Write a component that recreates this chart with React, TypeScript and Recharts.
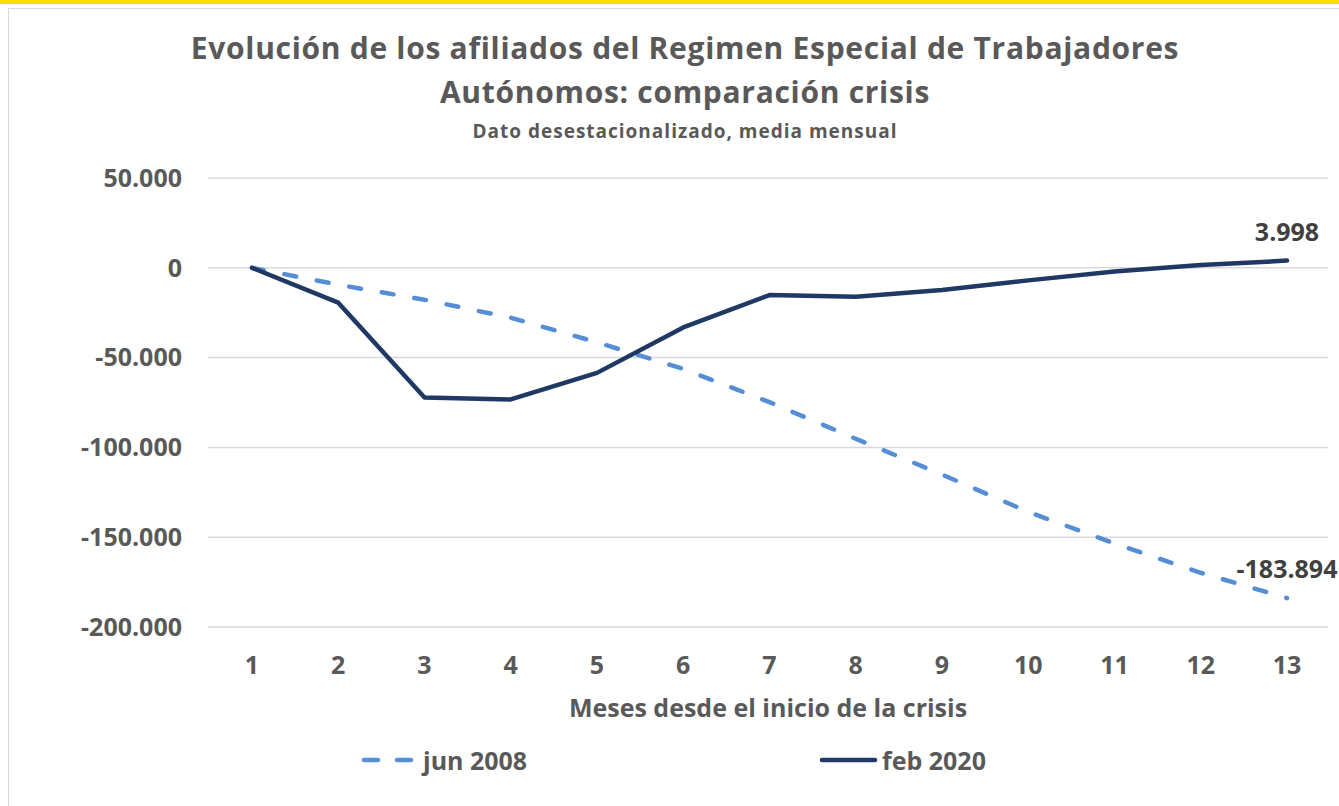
import React from "react";
import { LineChart, Line, XAxis, YAxis, CartesianGrid, LabelList } from "recharts";

const months = ["1", "2", "3", "4", "5", "6", "7", "8", "9", "10", "11", "12", "13"];
const jun2008 = [0, -9400, -17800, -27800, -41500, -56300, -74800, -95200, -115100, -135900, -153500, -169800, -183894];
const feb2020 = [0, -19400, -72200, -73300, -58500, -33200, -15200, -16100, -12400, -7000, -2000, 1500, 3998];
const yTicks = [-200000, -150000, -100000, -50000, 0, 50000];

const titleLine1 = "Evolución de los afiliados del Regimen Especial de Trabajadores";
const titleLine2 = "Autónomos: comparación crisis";
const subtitle = "Dato desestacionalizado, media mensual";
const xAxisTitle = "Meses desde el inicio de la crisis";
const seriesNames = ["jun 2008", "feb 2020"];

const data = months.map((m, i) => ({ m, a: jun2008[i], b: feb2020[i] }));

const FONT = "'Open Sans', Lato, sans-serif";
const GRAY = "#595959";
const LIGHT = "#558ED5";
const DARK = "#1F3864";

const fmt = (v: number) => {
  if (v === 0) return "0";
  const s = Math.abs(Math.round(v)).toString().replace(/\B(?=(\d{3})+(?!\d))/g, ".");
  return (v < 0 ? "-" : "") + s;
};

const lastLabel = (props: any) => {
  const { x, y, index, value } = props;
  if (index !== months.length - 1) return null;
  return (
    <text x={x} y={y - 20} textAnchor="middle" fontFamily={FONT} fontWeight={700} fontSize={25} fill="#404040">
      {fmt(value)}
    </text>
  );
};

export default function App() {
  return (
    <div style={{ position: "absolute", left: 0, top: 0, width: 1339, height: 806, overflow: "hidden", background: "#fff" }}>
      <div style={{ position: "absolute", left: 0, top: 0, width: 1339, height: 4, background: "#FFDD00" }} />
      <div style={{ position: "absolute", left: 8, top: 8, width: 1400, height: 900, border: "1px solid #d9d9d9" }} />
      <div style={{ position: "absolute", left: 0, top: 0 }}>
        <LineChart width={1339} height={806} data={data} margin={{ top: 178, right: 11, bottom: 119, left: 88 }}>
          <CartesianGrid vertical={false} stroke="#d9d9d9" strokeWidth={1.5} />
          <XAxis
            dataKey="m"
            axisLine={false}
            tickLine={false}
            height={60}
            tickMargin={23}
            interval={0}
            padding={{ left: 44, right: 41 }}
            tick={{ fill: GRAY, fontSize: 25, fontWeight: 700, fontFamily: FONT }}
          />
          <YAxis
            width={120}
            domain={[-200000, 50000]}
            ticks={yTicks}
            axisLine={false}
            tickLine={false}
            tickMargin={20}
            tickFormatter={fmt}
            tick={{ fill: GRAY, fontSize: 25, fontWeight: 700, fontFamily: FONT }}
          />
          <Line
            dataKey="a"
            name={seriesNames[0]}
            stroke={LIGHT}
            strokeWidth={4.5}
            strokeDasharray="12 21"
            strokeLinecap="round"
            dot={false}
            isAnimationActive={false}
          >
            <LabelList dataKey="a" content={lastLabel} />
          </Line>
          <Line
            dataKey="b"
            name={seriesNames[1]}
            stroke={DARK}
            strokeWidth={4.5}
            strokeLinecap="round"
            strokeLinejoin="round"
            dot={false}
            isAnimationActive={false}
          >
            <LabelList dataKey="b" content={lastLabel} />
          </Line>
        </LineChart>
      </div>
      <svg width={1339} height={806} style={{ position: "absolute", left: 0, top: 0, pointerEvents: "none" }}>
        <g fontFamily={FONT} fontWeight={700} fill={GRAY} textAnchor="middle">
          <text x={685} y={59} fontSize={30} letterSpacing={0.7}>{titleLine1}</text>
          <text x={685} y={103} fontSize={30} letterSpacing={0.7}>{titleLine2}</text>
          <text x={685} y={138} fontSize={19} letterSpacing={1}>{subtitle}</text>
          <text x={768} y={717} fontSize={25}>{xAxisTitle}</text>
        </g>
        <line x1={364} y1={760} x2={378} y2={760} stroke={LIGHT} strokeWidth={4.5} strokeLinecap="round" />
        <line x1={397} y1={760} x2={411} y2={760} stroke={LIGHT} strokeWidth={4.5} strokeLinecap="round" />
        <text x={423} y={770} fontFamily={FONT} fontWeight={700} fontSize={25} fill={GRAY}>{seriesNames[0]}</text>
        <line x1={822} y1={760} x2={875} y2={760} stroke={DARK} strokeWidth={4.5} strokeLinecap="round" />
        <text x={882} y={770} fontFamily={FONT} fontWeight={700} fontSize={25} fill={GRAY}>{seriesNames[1]}</text>
      </svg>
    </div>
  );
}
